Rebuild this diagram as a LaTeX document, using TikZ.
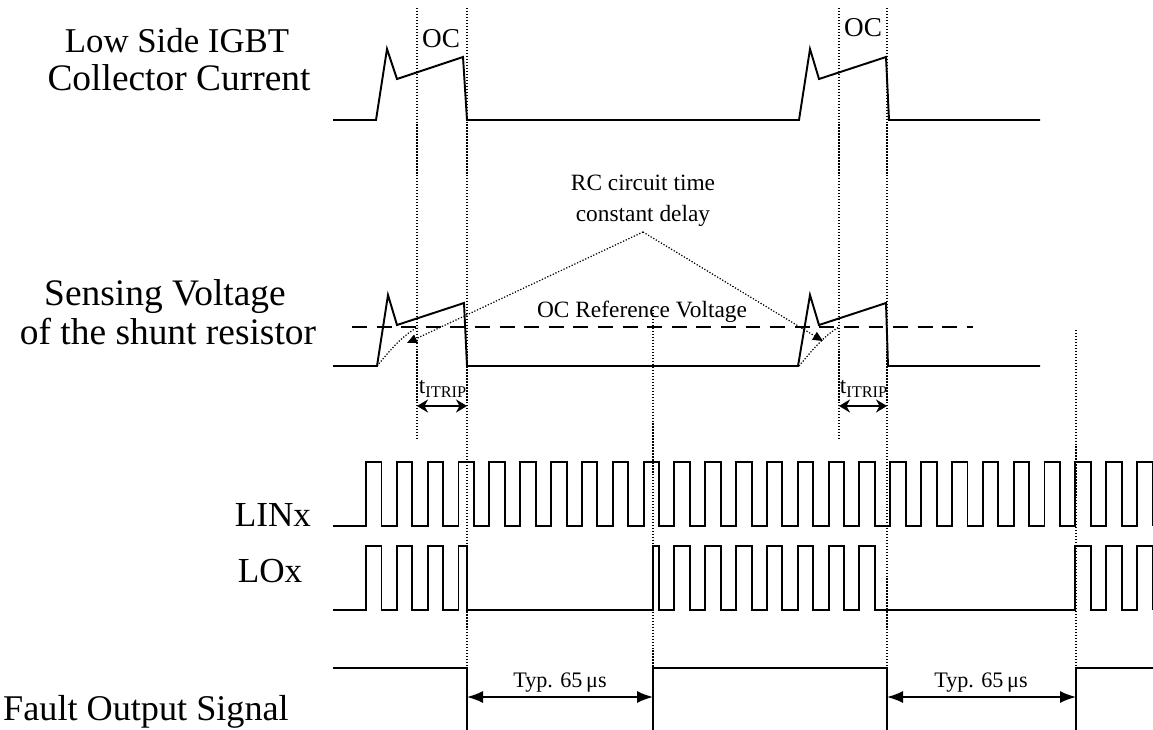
\documentclass[tikz,border=0pt]{standalone}
\usepackage{fontspec}
\setmainfont{Liberation Serif}
\usepackage{tikz}
\usetikzlibrary{arrows.meta}
\newcommand{\bigfont}{\fontsize{21.3}{24}\selectfont}
\newcommand{\midfont}{\fontsize{20}{24}\selectfont}
\newcommand{\smallfont}{\fontsize{13.3}{17.6}\selectfont}
\tikzset{
  wave/.style     = {line width=1.1pt,line join=miter},
  guide/.style    = {densely dotted,line width=0.7pt},
  refline/.style  = {dash pattern=on 8.5pt off 5.5pt,line width=0.9pt},
  pointer/.style  = {densely dotted,line width=0.7pt,-{Triangle[length=2mm,width=1.8mm]}},
  trip/.style     = {{Stealth[length=2.2mm,width=2.6mm]}-{Stealth[length=2.2mm,width=2.6mm]},line width=1pt},
  typ/.style      = {{Latex[length=3.2mm,width=2.4mm]}-{Latex[length=3.2mm,width=2.4mm]},line width=0.9pt},
  siglabel/.style = {font=\bigfont,inner sep=0pt},
  note/.style     = {font=\smallfont,inner sep=0pt}
}

\begin{document}
\begin{tikzpicture}[x=0.02cm,y=-0.02cm]
  \useasboundingbox (0,0) rectangle (1153,730);
  % --- signal names on the left
  \node[siglabel,font=\fontsize{19.8}{24}\selectfont] (iclow) at (177,41) {Low Side IGBT};
  \node[siglabel] (iccur)  at (179,78)  {Collector Current};
  \node[siglabel] (vsens)  at (165,297) {Sensing Voltage};
  \node[siglabel] (vshunt) at (168,332) {of the shunt resistor};
  \node[siglabel,font=\midfont] (linx) at (273,515) {LINx};
  \node[siglabel,font=\midfont] (lox)  at (270,571) {LOx};
  \node[siglabel,font=\fontsize{20.6}{24}\selectfont] (fault) at (146,712) {Fault Output Signal};
  % --- dotted guide lines
  \foreach \x/\ya/\yb in {417/8/440, 467/8/668, 839/8/440, 887/8/668,
                          653/307/668, 1076/330/668}
    { \draw[guide] (\x,\ya) -- (\x,\yb); }
  % --- collector current
  \draw[wave] (333,120) -- (376,120) -- (387,49) -- (397,79) -- (463,57)
              -- (467,120) -- (799,120) -- (810,49) -- (819,79) -- (886,57)
              -- (889,120) -- (1040,120);
  \node[note,font=\fontsize{15.5}{18}\selectfont] (oca) at (441,39) {OC};
  \node[note,font=\fontsize{15.5}{18}\selectfont] (ocb) at (863,28) {OC};
  % --- sensing voltage and reference level
  \draw[wave] (333,366) -- (377,366) -- (388,295) -- (397,325) -- (464,303)
              -- (467,366) -- (798,366) -- (810,295) -- (819,325) -- (886,303)
              -- (888,366) -- (1040,366);
  \draw[refline] (352,327) -- (973,327);
  \node[note] (ocref) at (642,312) {OC Reference Voltage};
  \draw[guide] (377,366) .. controls (392,348) and (402,336) .. (418,327);
  \draw[guide] (799,366) .. controls (814,348) and (824,336) .. (839,327);
  % --- RC delay note
  \node[note,align=center] (rcnote) at (643,201) {RC circuit time\\constant delay};
  \coordinate (apex) at (643,232);
  \coordinate (rca) at (407,343);
  \coordinate (rcb) at (823,341);
  \draw[pointer] (apex) -- (rca);
  \draw[pointer] (apex) -- (rcb);
  % --- t_ITRIP
  \coordinate (tripa1) at (417,406); \coordinate (tripa2) at (467,406);
  \coordinate (tripb1) at (839,406); \coordinate (tripb2) at (887,406);
  \draw[trip] (tripa1) -- (tripa2);
  \draw[trip] (tripb1) -- (tripb2);
  \node[note] (tripla) at (443,389) {t\textsubscript{ITRIP}};
  \node[note] (triplb) at (864,389) {t\textsubscript{ITRIP}};
  % --- LINx: 26 pulses
  \draw[wave] (333,526) -- (366,526)
    \foreach \k in {0,...,24} { -- ++(0,-64) -- ++(15.5,0) -- ++(0,64) -- ++(15.34,0) }
    -- ++(0,-64) -- ++(15.5,0) -- ++(0,64);
  % --- LOx: gated by the fault
  \draw[wave] (333,610) -- (366,610)
    \foreach \k in {0,1,2} { -- ++(0,-64) -- ++(15.5,0) -- ++(0,64) -- ++(15.34,0) }
    -- ++(0,-64) -- (467,546) -- (467,610) -- (653,610) -- (653,546) -- (659,546)
    -- (659,610) -- (674.4,610)
    \foreach \k in {10,...,15} { -- ++(0,-64) -- ++(15.5,0) -- ++(0,64) -- ++(15.34,0) }
    -- ++(0,-64) -- ++(15.5,0) -- ++(0,64) -- (1075.3,610)
    \foreach \k in {23,24} { -- ++(0,-64) -- ++(15.5,0) -- ++(0,64) -- ++(15.34,0) }
    -- ++(0,-64) -- ++(15.5,0) -- ++(0,64);
  % --- fault output
  \draw[wave] (333,668) -- (467,668) -- (467,740);
  \draw[wave] (653,740) -- (653,668) -- (887,668) -- (887,740);
  \draw[wave] (1076,740) -- (1076,668) -- (1153,668);
  \coordinate (typa1) at (467,697); \coordinate (typa2) at (653,697);
  \coordinate (typb1) at (887,697); \coordinate (typb2) at (1076,697);
  \draw[typ] (typa1) -- (typa2);
  \draw[typ] (typb1) -- (typb2);
  \node[note,font=\fontsize{12.6}{15}\selectfont] (typla) at (560,683) {Typ. 65\,μs};
  \node[note,font=\fontsize{12.6}{15}\selectfont] (typlb) at (981,683) {Typ. 65\,μs};
\end{tikzpicture}
\end{document}
